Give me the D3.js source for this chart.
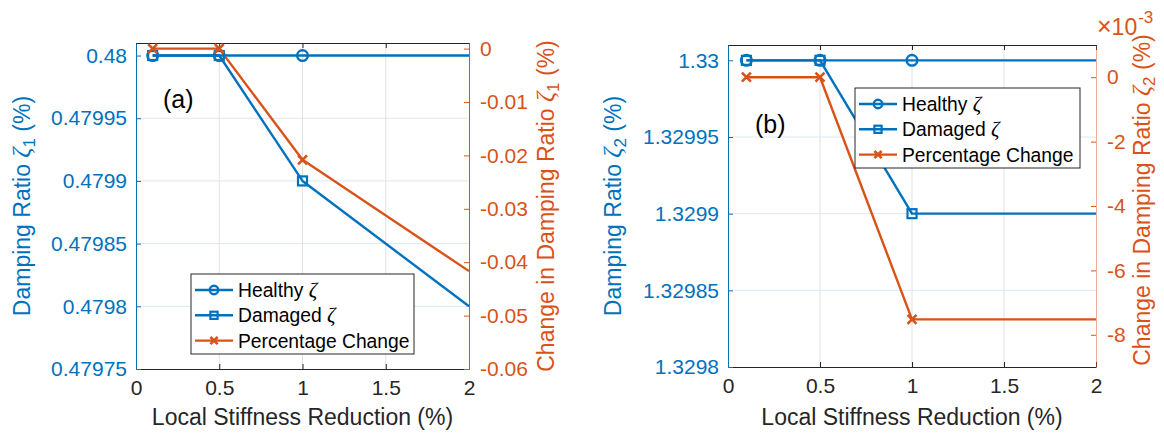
<!DOCTYPE html>
<html>
<head>
<meta charset="utf-8">
<script src="https://cdn.jsdelivr.net/npm/d3@7/dist/d3.min.js"></script>
<style>
  html, body { margin: 0; padding: 0; background: #fff; }
  svg { display: block; font-family: "Liberation Sans", Arial, Helvetica, sans-serif; }
</style>
</head>
<body>
<svg id="chart" width="1164" height="433"></svg>
<script>
// ---------- data ----------
const stiffnessReduction = [0.1, 0.5, 1, 2];           // x (%)
const healthyA  = [0.48, 0.48, 0.48, 0.48];           // ζ1 healthy (%)
const damagedA  = [0.48, 0.48, 0.4799, 0.4798];       // ζ1 damaged (%)
const changeA   = [0, 0, -0.02083, -0.04167];         // % change ζ1
const healthyB  = [1.33, 1.33, 1.33, 1.33];           // ζ2 healthy (%)
const damagedB  = [1.33, 1.33, 1.3299, 1.3299];       // ζ2 damaged (%)
const changeB   = [0, 0, -0.00752, -0.00752];         // % change ζ2
const xTicks    = [0, 0.5, 1, 1.5, 2];
const yLeftTicksA  = [0.47975, 0.4798, 0.47985, 0.4799, 0.47995, 0.48];
const yLeftLabelsA = ["0.47975", "0.4798", "0.47985", "0.4799", "0.47995", "0.48"];
const yRightTicksA = [-0.06, -0.05, -0.04, -0.03, -0.02, -0.01, 0];
const yRightLabelsA = ["-0.06", "-0.05", "-0.04", "-0.03", "-0.02", "-0.01", "0"];
const yLeftTicksB  = [1.3298, 1.32985, 1.3299, 1.32995, 1.33];
const yLeftLabelsB = ["1.3298", "1.32985", "1.3299", "1.32995", "1.33"];
const yRightTicksB = [-0.008, -0.006, -0.004, -0.002, 0];
const yRightLabelsB = ["-8", "-6", "-4", "-2", "0"];
const legendLabels = ["Healthy ", "Damaged ", "Percentage Change"];

const BLUE = "#0072BD", ORANGE = "#D95319", DARK = "#262626";
const svg = d3.select("#chart");

function drawPanel(cfg) {
  const g = svg.append("g");
  const x = d3.scaleLinear().domain([0, 2]).range([cfg.left, cfg.right]);
  const yL = d3.scaleLinear().domain(cfg.yLDomain).range([cfg.bottom, cfg.top]);
  const yR = d3.scaleLinear().domain(cfg.yRDomain).range([cfg.bottom, cfg.top]);
  const W = cfg.right - cfg.left, H = cfg.bottom - cfg.top;

  // grid
  g.append("g").selectAll("line").data(xTicks.slice(1, -1)).join("line")
    .attr("x1", d => x(d)).attr("x2", d => x(d))
    .attr("y1", cfg.top).attr("y2", cfg.bottom)
    .attr("stroke", "#dfe1e5").attr("stroke-width", 1);
  g.append("g").selectAll("line").data(cfg.yLTicks.slice(1, -1)).join("line")
    .attr("x1", cfg.left).attr("x2", cfg.right)
    .attr("y1", d => yL(d)).attr("y2", d => yL(d))
    .attr("stroke", "#dbe8f4").attr("stroke-width", 1);

  // axes
  const xb = g.append("g").attr("transform", `translate(0,${cfg.bottom})`)
    .call(d3.axisBottom(x).tickValues(xTicks).tickSizeInner(-5).tickSizeOuter(0).tickPadding(11).tickFormat(d3.format("")));
  const xt = g.append("g").attr("transform", `translate(0,${cfg.top})`)
    .call(d3.axisTop(x).tickValues(xTicks).tickSizeInner(-5).tickSizeOuter(0).tickFormat(""));
  [xb, xt].forEach(a => {
    a.select(".domain").attr("stroke", DARK).attr("stroke-width", 1);
    a.selectAll(".tick line").attr("stroke", DARK);
    a.selectAll("text").attr("fill", DARK).attr("font-size", 21).attr("font-family", "Liberation Sans, Arial, sans-serif");
  });
  const al = g.append("g").attr("transform", `translate(${cfg.left},0)`)
    .call(d3.axisLeft(yL).tickValues(cfg.yLTicks).tickSizeInner(-5).tickSizeOuter(0).tickPadding(9)
      .tickFormat((d, i) => cfg.yLLabels[i]));
  al.select(".domain").attr("stroke", BLUE).attr("stroke-width", 1);
  al.selectAll(".tick line").attr("stroke", BLUE);
  al.selectAll("text").attr("fill", BLUE).attr("font-size", 21).attr("font-family", "Liberation Sans, Arial, sans-serif");
  const ar = g.append("g").attr("transform", `translate(${cfg.right},0)`)
    .call(d3.axisRight(yR).tickValues(cfg.yRTicks).tickSizeInner(-5).tickSizeOuter(0).tickPadding(11)
      .tickFormat((d, i) => cfg.yRLabels[i]));
  ar.select(".domain").attr("stroke", ORANGE).attr("stroke-width", 1).attr("stroke-opacity", cfg.rightAxisOpacity);
  ar.selectAll(".tick line").attr("stroke", ORANGE);
  ar.selectAll("text").attr("fill", ORANGE).attr("font-size", 21).attr("font-family", "Liberation Sans, Arial, sans-serif");

  // clip
  const clipId = "clip" + cfg.id;
  svg.append("clipPath").attr("id", clipId).append("rect")
    .attr("x", cfg.left).attr("y", cfg.top - 8).attr("width", W).attr("height", H + 8);
  const plot = g.append("g").attr("clip-path", `url(#${clipId})`);

  const series = [
    { vals: cfg.healthy, y: yL, color: BLUE, marker: "circle" },
    { vals: cfg.damaged, y: yL, color: BLUE, marker: "square" },
    { vals: cfg.change, y: yR, color: ORANGE, marker: "cross" }
  ];
  const line = (ys) => d3.line().x((d, i) => x(stiffnessReduction[i])).y(d => ys(d));
  series.forEach(s => {
    plot.append("path").datum(s.vals).attr("d", line(s.y))
      .attr("fill", "none").attr("stroke", s.color).attr("stroke-width", 2.4)
      .attr("stroke-linejoin", "round");
  });
  // markers (only those strictly inside the x-limits)
  series.forEach(s => {
    s.vals.forEach((v, i) => {
      const xv = stiffnessReduction[i];
      if (xv >= x.domain()[1]) return;
      drawMarker(plot, s.marker, x(xv), s.y(v), s.color, 1);
    });
  });

  // panel label
  g.append("text").attr("x", cfg.tagX).attr("y", cfg.tagY).text(cfg.tag)
    .attr("font-size", 25).attr("fill", "#000");

  // x label
  g.append("text").attr("x", (cfg.left + cfg.right) / 2).attr("y", 425)
    .attr("text-anchor", "middle").attr("font-size", 23).attr("fill", DARK)
    .text("Local Stiffness Reduction (%)");

  // y labels
  const yl = g.append("text")
    .attr("transform", `translate(${cfg.yLabelLX},${(cfg.top + cfg.bottom) / 2}) rotate(-90)`)
    .attr("text-anchor", "middle").attr("font-size", 23).attr("fill", BLUE);
  zetaLabel(yl, "Damping Ratio ", cfg.sub);
  const yr = g.append("text")
    .attr("transform", `translate(${cfg.yLabelRX},${cfg.yLabelRY}) rotate(-90)`)
    .attr("text-anchor", "middle").attr("font-size", 23).attr("fill", ORANGE);
  zetaLabel(yr, "Change in Damping Ratio ", cfg.sub);

  // legend
  const lg = g.append("g");
  lg.append("rect").attr("x", cfg.legX).attr("y", cfg.legY).attr("width", cfg.legW).attr("height", 80)
    .attr("fill", "#fff").attr("stroke", DARK).attr("stroke-width", 1);
  series.forEach((s, i) => {
    const cy = cfg.legY + 16 + i * 25.3;
    lg.append("line").attr("x1", cfg.legX + 4).attr("x2", cfg.legX + 42).attr("y1", cy).attr("y2", cy)
      .attr("stroke", s.color).attr("stroke-width", 2.4);
    drawMarker(lg, s.marker, cfg.legX + 23, cy, s.color, 0.8);
    const t = lg.append("text").attr("x", cfg.legX + 47).attr("y", cy + 7)
      .attr("font-size", 19.3).attr("fill", "#000");
    t.append("tspan").text(legendLabels[i]);
    if (i < 2) t.append("tspan").attr("font-family", "Liberation Serif, Times New Roman, serif")
      .attr("font-style", "italic").attr("font-size", 21).text("ζ");
  });
  return { x, yL, yR };
}

function zetaLabel(t, prefix, sub) {
  t.append("tspan").text(prefix);
  t.append("tspan").attr("font-family", "Liberation Serif, Times New Roman, serif")
    .attr("font-style", "italic").attr("font-size", 25).text("ζ");
  t.append("tspan").attr("font-size", 17).attr("dy", 5).text(sub);
  t.append("tspan").attr("dy", -5).text(" (%)");
}

function drawMarker(sel, type, cx, cy, color, sc) {
  if (type === "circle") {
    sel.append("circle").attr("cx", cx).attr("cy", cy).attr("r", 5.3 * sc)
      .attr("fill", "none").attr("stroke", color).attr("stroke-width", 2.4);
  } else if (type === "square") {
    const h = 4.5 * sc;
    sel.append("rect").attr("x", cx - h).attr("y", cy - h).attr("width", 2 * h).attr("height", 2 * h)
      .attr("fill", "none").attr("stroke", color).attr("stroke-width", 2.2);
  } else {
    const h = 4.5 * sc;
    sel.append("path").attr("d", `M${cx - h},${cy - h}L${cx + h},${cy + h}M${cx - h},${cy + h}L${cx + h},${cy - h}`)
      .attr("stroke", color).attr("stroke-width", 2.6).attr("fill", "none");
  }
}

// ---------- panel (a) ----------
drawPanel({
  id: "a", left: 136, right: 469, top: 43, bottom: 369,
  yLDomain: [0.47975, 0.480010], yRDomain: [-0.06, 0.00105],
  yLTicks: yLeftTicksA, yLLabels: yLeftLabelsA, yRTicks: yRightTicksA, yRLabels: yRightLabelsA,
  healthy: healthyA, damaged: damagedA, change: changeA,
  sub: "1", tag: "(a)", tagX: 163, tagY: 108,
  yLabelLX: 30, yLabelRX: 554, yLabelRY: 206, rightAxisOpacity: 1,
  legX: 191, legY: 274, legW: 223
});

// ---------- panel (b) ----------
drawPanel({
  id: "b", left: 728, right: 1096, top: 45, bottom: 367,
  yLDomain: [1.3298, 1.330010], yRDomain: [-0.009, 0.001],
  yLTicks: yLeftTicksB, yLLabels: yLeftLabelsB, yRTicks: yRightTicksB, yRLabels: yRightLabelsB,
  healthy: healthyB, damaged: damagedB, change: changeB,
  sub: "2", tag: "(b)", tagX: 755, tagY: 133,
  yLabelLX: 621, yLabelRX: 1150, yLabelRY: 200, rightAxisOpacity: 0.45,
  legX: 855, legY: 88, legW: 225
});

// exponent label for panel (b) right axis
const ex = svg.append("text").attr("x", 1097).attr("y", 35).attr("fill", ORANGE).attr("font-size", 23);
ex.append("tspan").attr("font-size", 25).text("×");
ex.append("tspan").text("10");
ex.append("tspan").attr("font-size", 17).attr("dy", -12).attr("dx", 1).text("-3");
</script>
</body>
</html>
